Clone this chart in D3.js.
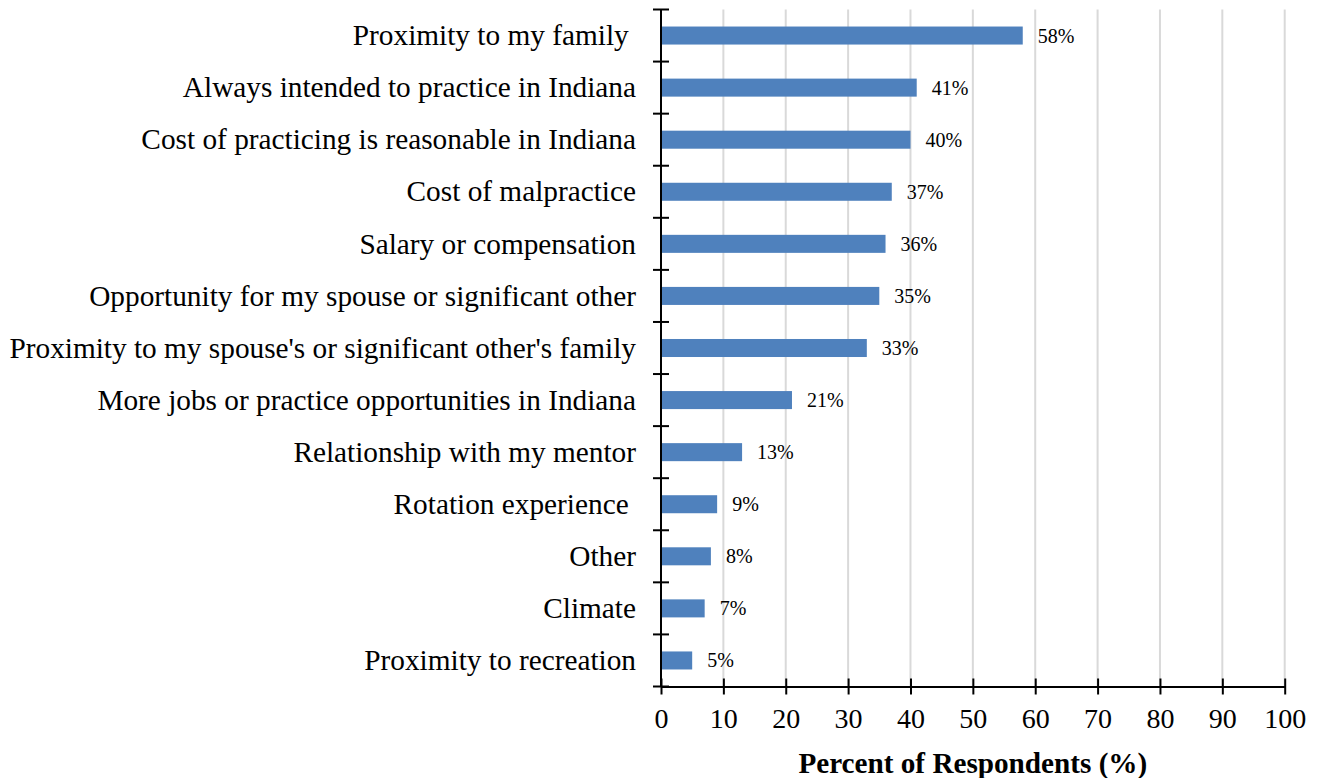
<!DOCTYPE html>
<html>
<head>
<meta charset="utf-8">
<script src="https://cdn.jsdelivr.net/npm/d3@7"></script>
<style>
  html, body { margin: 0; padding: 0; background: #fff; }
  svg { display: block; }
  text { font-family: "Liberation Serif", "Times New Roman", serif; fill: #000; }
</style>
</head>
<body>
<svg id="chart" width="1319" height="778"></svg>
<script>
// Reasons for choosing to practice in Indiana
const categories = [
  "Proximity to my family ",
  "Always intended to practice in Indiana",
  "Cost of practicing is reasonable in Indiana",
  "Cost of malpractice",
  "Salary or compensation",
  "Opportunity for my spouse or significant other",
  "Proximity to my spouse's or significant other's family",
  "More jobs or practice opportunities in Indiana",
  "Relationship with my mentor",
  "Rotation experience ",
  "Other",
  "Climate",
  "Proximity to recreation"
];
const percents = [58, 41, 40, 37, 36, 35, 33, 21, 13, 9, 8, 7, 5];
const xTicks = [0, 10, 20, 30, 40, 50, 60, 70, 80, 90, 100];
const xTitle = "Percent of Respondents (%)";

const svg = d3.select("#chart");
const plotLeft = 661, plotRight = 1284.7, plotTop = 9.5, plotBottom = 686.5;

const x = d3.scaleLinear().domain([0, 100]).range([plotLeft, plotRight]);
const y = d3.scaleBand().domain(categories).range([plotTop, plotBottom]).paddingInner(0.654).paddingOuter(0.327);

// vertical gridlines
svg.append("g").selectAll("line")
  .data(xTicks.filter(d => d > 0))
  .join("line")
  .attr("x1", d => x(d)).attr("x2", d => x(d))
  .attr("y1", plotTop).attr("y2", plotBottom)
  .attr("stroke", "#d9d9d9").attr("stroke-width", 2);

// bars
svg.append("g").selectAll("rect")
  .data(categories)
  .join("rect")
  .attr("x", x(0))
  .attr("y", d => y(d))
  .attr("width", (d, i) => x(percents[i]) - x(0))
  .attr("height", y.bandwidth())
  .attr("fill", "#4f81bd");

// value labels
svg.append("g").selectAll("text")
  .data(categories)
  .join("text")
  .attr("x", (d, i) => x(percents[i]) + 15)
  .attr("y", d => y(d) + y.bandwidth() / 2)
  .attr("dy", "0.35em")
  .attr("font-size", 20)
  .text((d, i) => percents[i] + "%");

// x axis
const xAxis = d3.axisBottom(x).tickValues(xTicks).tickSize(0).tickPadding(22);
const gx = svg.append("g").attr("transform", `translate(0,${plotBottom})`).call(xAxis);
gx.select(".domain").attr("stroke", "#000").attr("stroke-width", 2);
gx.selectAll(".tick line").remove();
gx.selectAll(".tick").append("line")
  .attr("y1", -8).attr("y2", 8)
  .attr("stroke", "#000").attr("stroke-width", 2);
gx.selectAll(".tick text")
  .attr("font-size", 28)
  .attr("font-family", "Liberation Serif, Times New Roman, serif")
  .attr("fill", "#000");

// y axis with ticks crossing the line between categories
const gy = svg.append("g");
gy.append("line")
  .attr("x1", plotLeft).attr("x2", plotLeft)
  .attr("y1", plotTop).attr("y2", plotBottom)
  .attr("stroke", "#000").attr("stroke-width", 2);
const step = y.step();
const boundaries = d3.range(categories.length + 1).map(i => plotTop + i * step);
gy.selectAll("line.tick")
  .data(boundaries)
  .join("line")
  .attr("class", "tick")
  .attr("x1", plotLeft - 8).attr("x2", plotLeft + 8)
  .attr("y1", d => d).attr("y2", d => d)
  .attr("stroke", "#000").attr("stroke-width", 2);

// category labels
gy.selectAll("text")
  .data(categories)
  .join("text")
  .attr("x", plotLeft - 25)
  .attr("y", d => y(d) + y.bandwidth() / 2)
  .attr("dy", "0.33em")
  .attr("text-anchor", "end")
  .attr("font-size", 29.3)
  .style("white-space", "pre")
  .text(d => d);

// axis title
svg.append("text")
  .attr("x", (plotLeft + plotRight) / 2)
  .attr("y", 773)
  .attr("text-anchor", "middle")
  .attr("font-size", 29.2)
  .attr("font-weight", "bold")
  .text(xTitle);
</script>
</body>
</html>
